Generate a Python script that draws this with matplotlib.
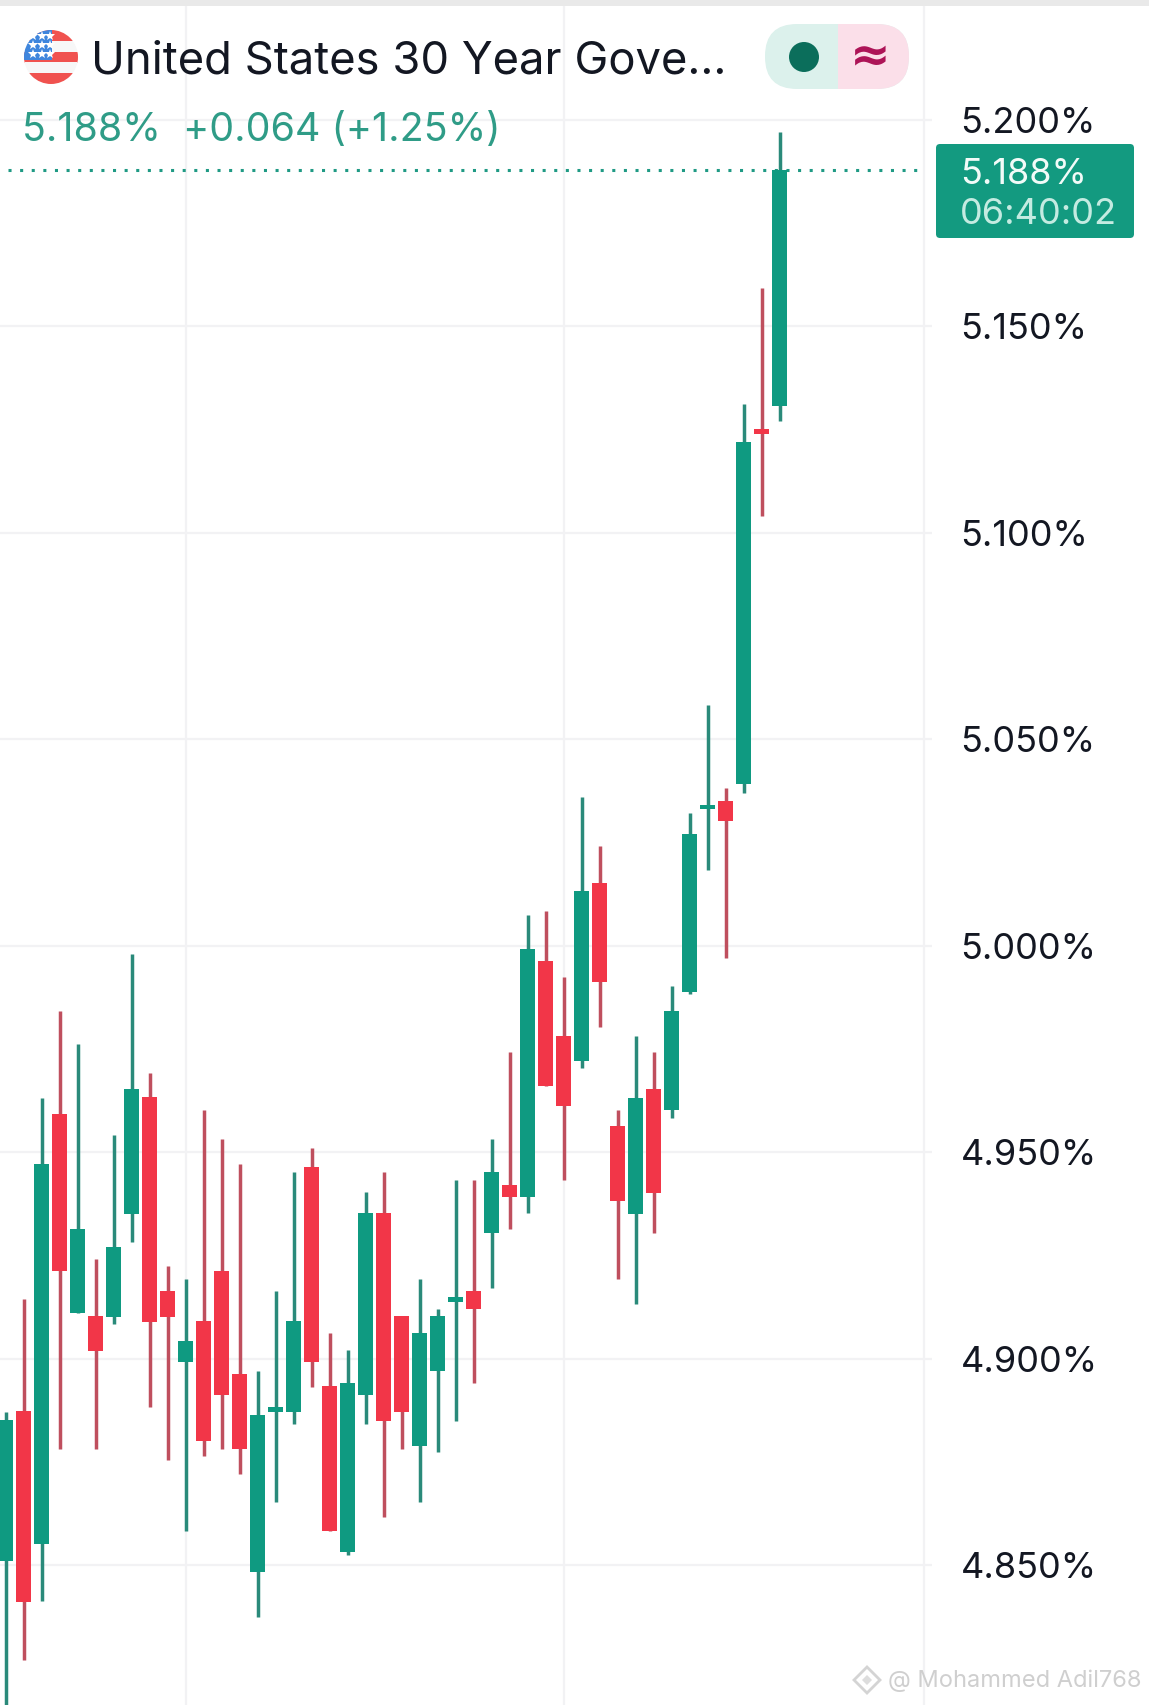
import matplotlib
matplotlib.use("Agg")
import matplotlib.pyplot as plt
from matplotlib.patches import Circle, Rectangle, FancyBboxPatch, RegularPolygon

FONT = "Inter"
plt.rcParams['font.family'] = [FONT, 'DejaVu Sans']

highs = [4.887, 4.9145, 4.9632, 4.9842, 4.9763, 4.9242, 4.9542, 4.9979, 4.9692, 4.9224, 4.9192,
         4.9603, 4.9532, 4.9471, 4.8971, 4.9163, 4.9453, 4.9511, 4.9063, 4.9021, 4.9403, 4.9453,
         4.9103, 4.9192, 4.9121, 4.9432, 4.9432, 4.9532, 4.9742, 5.0074, 5.0084, 4.9924, 5.0361,
         5.0242, 4.9603, 4.9782, 4.9742, 4.9903, 5.0321, 5.0582, 5.0382, 5.1311, 5.1592, 5.1971]
lows = [4.815, 4.8271, 4.8413, 4.8782, 4.9111, 4.8782, 4.9084, 4.9282, 4.8882, 4.8755, 4.8582,
        4.8763, 4.8782, 4.8721, 4.8374, 4.8653, 4.8842, 4.8932, 4.8582, 4.8524, 4.8842, 4.8616,
        4.8782, 4.8653, 4.8774, 4.885, 4.8942, 4.9171, 4.9313, 4.9353, 4.9661, 4.9432, 4.9703,
        4.9803, 4.9192, 4.9132, 4.9303, 4.9582, 4.9882, 5.0184, 4.9971, 5.0371, 5.1042, 5.1271]
opens = [4.851, 4.8874, 4.855, 4.9592, 4.9111, 4.9103, 4.91, 4.935, 4.9634, 4.9163, 4.8992,
         4.9092, 4.9213, 4.8963, 4.8482, 4.8871, 4.8871, 4.9463, 4.8934, 4.8532, 4.8911, 4.9353,
         4.9103, 4.8789, 4.8971, 4.9136, 4.9163, 4.9303, 4.9421, 4.9392, 4.9963, 4.9782, 4.9721,
         5.0153, 4.9563, 4.935, 4.9653, 4.9603, 4.9889, 5.033, 5.035, 5.0392, 5.1252, 5.1308]
closes = [4.885, 4.8411, 4.9471, 4.9211, 4.9313, 4.9018, 4.9271, 4.9653, 4.9089, 4.91, 4.9042,
          4.88, 4.8911, 4.8782, 4.8863, 4.8882, 4.9092, 4.8992, 4.8582, 4.8942, 4.9353, 4.885,
          4.8871, 4.9063, 4.9103, 4.9148, 4.9121, 4.9453, 4.9392, 4.9992, 4.9661, 4.9611, 5.0132,
          4.9911, 4.9382, 4.9632, 4.94, 4.9842, 5.0271, 5.0341, 5.0303, 5.1221, 5.124, 5.188]
price_ticks = [4.85, 4.90, 4.95, 5.00, 5.05, 5.10, 5.15, 5.20]
session_ticks = [10, 31]
title = "United States 30 Year Gove..."
quote = "5.188%  +0.064 (+1.25%)"
last_price = "5.188%"
countdown = "06:40:02"
credit = "@ Mohammed Adil768"

W, H = 1149, 1705
GREEN, GREEN_WICK = "#0f9a81", "#2a8a7a"
RED, RED_WICK = "#f23648", "#bf4f5e"
GRID = "#f2f2f4"

fig = plt.figure(figsize=(W / 100, H / 100), dpi=100, facecolor="white")

ax = fig.add_axes([0, 0, 924 / W, 1])
step = 18.0
x0 = 5.7
ax.set_xlim(-x0 / step, (924 - x0) / step)
px_per_unit = (1565 - 120) / 0.35
ax.set_ylim(4.85 - (H - 1565) / px_per_unit, 5.20 + 120 / px_per_unit)
ax.set_axisbelow(True)
ax.grid(True, color=GRID, lw=1.6)
for s in ("left", "top", "bottom"):
    ax.spines[s].set_visible(False)
ax.spines["right"].set_color(GRID)
ax.spines["right"].set_linewidth(1.6)
ax.set_xticks(session_ticks)
ax.tick_params(axis="x", length=0, labelbottom=False)
ax.yaxis.tick_right()
ax.set_yticks(price_ticks)
ax.set_yticklabels([f"{t:.3f}%" for t in price_ticks], fontsize=26, color="#131722")
ax.tick_params(axis="y", length=5.8, width=1.6, color=GRID, pad=20.5)

for i, (o, h, l, c) in enumerate(zip(opens, highs, lows, closes)):
    up = c >= o
    ax.vlines(i, l, h, color=GREEN_WICK if up else RED_WICK, lw=2.5, zorder=3)
    ax.bar(i, abs(c - o), bottom=min(o, c), width=0.85, color=GREEN if up else RED, zorder=4)

ax.hlines(closes[-1], (8 - x0) / step, (924 - x0) / step, color="#1f9a84", lw=2.2,
          linestyle=(0, (1, 2.8)), zorder=2)

ov = fig.add_axes([0, 0, 1, 1], facecolor="none")
ov.set_xlim(0, W)
ov.set_ylim(H, 0)
ov.axis("off")

ov.add_patch(Rectangle((0, 0), W, 6, color="#e9e9e9", lw=0))

# flag
cx, cy, r = 51, 57, 27
clip = Circle((cx, cy), r, transform=ov.transData)
band = 2 * r / 5
for k, col in enumerate(["#f0524f", "#f7f7f7", "#f0524f", "#f7f7f7", "#f0524f"]):
    ov.add_patch(Rectangle((cx - r, cy - r + k * band), 2 * r, band + 0.5, color=col, lw=0, clip_path=clip))
ov.add_patch(Rectangle((cx - r, cy - r), r + 1, 30, color="#3f86dd", lw=0, clip_path=clip))
for yy in [36, 45, 54]:
    for xx in [33, 42, 50]:
        ov.plot(xx, yy, marker="*", ms=7, color="white", mew=0)

ov.text(91, 61, title, fontsize=32.7, color="#131722", va="center", ha="left")

# status pill
ov.add_patch(FancyBboxPatch((795, 54), 84, 5, boxstyle="round,pad=30,rounding_size=32",
                            fc="#dcf1ec", ec="none"))
pill_clip = Rectangle((838, 0), 120, 120, transform=ov.transData)
right = FancyBboxPatch((795, 54), 84, 5, boxstyle="round,pad=30,rounding_size=32",
                       fc="#fbdfe9", ec="none")
ov.add_patch(right)
right.set_clip_path(pill_clip)
ov.add_patch(Circle((804, 57), 15, fc="#0b6e5b", ec="none"))
ov.text(870, 56, "≈", fontsize=35, color="#ad1457", ha="center", va="center", family="DejaVu Sans",
        fontweight="bold")

ov.text(22, 130, quote, fontsize=28.4, color="#2f9c87", va="center", ha="left")

# last price label
ov.add_patch(FancyBboxPatch((939, 147), 192, 88, boxstyle="round,pad=3,rounding_size=4", fc="#139a80", ec="none"))
ov.text(960, 175, last_price, fontsize=26, color="#f2fbf8", va="center", ha="left")
ov.text(960, 215, countdown, fontsize=26, color="#c4ebe1", va="center", ha="left")

# credit mark
ov.add_patch(RegularPolygon((867, 1680), 4, radius=13, fc="none", ec="#d4d4d4", lw=2))
ov.add_patch(RegularPolygon((867, 1680), 4, radius=5, fc="#dddddd", ec="none"))
ov.text(888, 1681, credit, fontsize=17, color="#cfcfcf", va="center", ha="left")

fig.savefig("out.png", dpi=100)
